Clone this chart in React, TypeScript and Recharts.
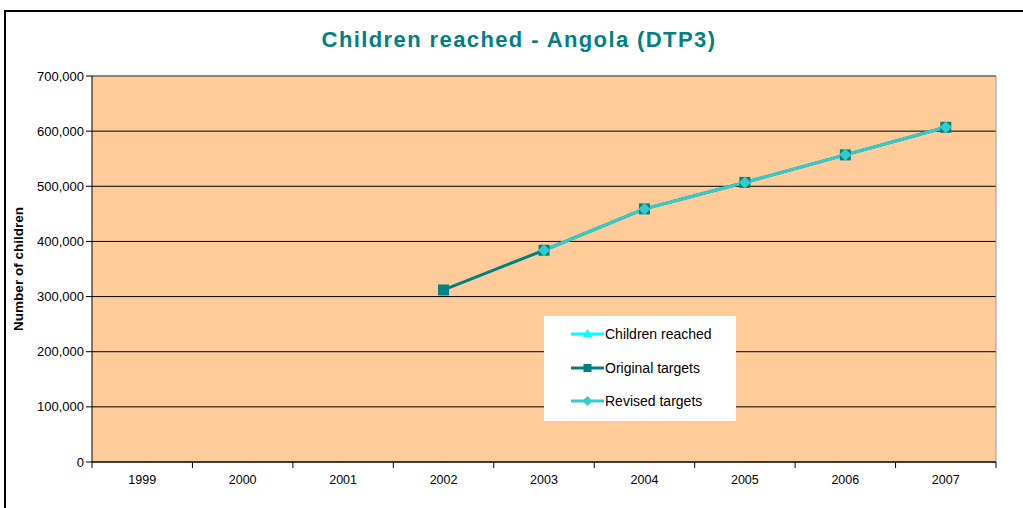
import React from 'react';
import {
  LineChart, Line, XAxis, YAxis, CartesianGrid, ReferenceLine,
} from 'recharts';

const years = ['1999', '2000', '2001', '2002', '2003', '2004', '2005', '2006', '2007'];
const childrenReached: (number | null)[] = [null, null, null, null, null, null, null, null, null];
const originalTargets: (number | null)[] = [null, null, null, 312000, 384000, 459000, 507000, 557000, 607000];
const revisedTargets: (number | null)[] = [null, null, null, null, 384000, 459000, 507000, 557000, 607000];
const yTicks = [0, 100000, 200000, 300000, 400000, 500000, 600000, 700000];

const data = years.map((y, i) => ({
  idx: i,
  year: y,
  children: childrenReached[i],
  original: originalTargets[i],
  revised: revisedTargets[i],
}));

const boundaryTicks = years.map((_, i) => i - 0.5).concat([years.length - 0.5]);
const centerTicks = years.map((_, i) => i);

const FONT = '"Liberation Sans", Arial, sans-serif';
const C_CHILD = '#00FFFF';
const C_ORIG = '#008080';
const C_REV = '#33CCCC';

const SquareDot = (props: any) => {
  const { cx, cy, index } = props;
  if (cx == null || cy == null || props.value == null) return <g key={`s${index}`} />;
  return <rect key={`s${index}`} x={cx - 5.5} y={cy - 5.5} width={11} height={11} fill={C_ORIG} />;
};

const DiamondDot = (props: any) => {
  const { cx, cy, index } = props;
  if (cx == null || cy == null || props.value == null) return <g key={`d${index}`} />;
  const r = 6;
  return (
    <polygon
      key={`d${index}`}
      points={`${cx},${cy - r} ${cx + r},${cy} ${cx},${cy + r} ${cx - r},${cy}`}
      fill={C_REV}
    />
  );
};

const TriangleDot = (props: any) => {
  const { cx, cy, index } = props;
  if (cx == null || cy == null || props.value == null) return <g key={`t${index}`} />;
  return <polygon key={`t${index}`} points={`${cx},${cy - 5} ${cx + 5},${cy + 4} ${cx - 5},${cy + 4}`} fill={C_CHILD} />;
};

const legendItems = [
  { label: 'Children reached', color: C_CHILD, shape: 'triangle' },
  { label: 'Original targets', color: C_ORIG, shape: 'square' },
  { label: 'Revised targets', color: C_REV, shape: 'diamond' },
];

const LegendBox = () => (
  <div style={{ position: 'absolute', left: 544, top: 316, width: 192, height: 105, background: '#fff' }}>
    {legendItems.map((it, i) => (
      <div
        key={it.label}
        style={{ position: 'absolute', left: 27, top: 9 + i * 33.5, height: 18, display: 'flex', alignItems: 'center' }}
      >
        <svg width={34} height={18} style={{ display: 'block' }}>
          <line x1={0} y1={9} x2={33} y2={9} stroke={it.color} strokeWidth={3} />
          {it.shape === 'triangle' && <polygon points="16.5,4 21,12 12,12" fill={it.color} />}
          {it.shape === 'square' && <rect x={12.5} y={5} width={8} height={8} fill={it.color} />}
          {it.shape === 'diamond' && <polygon points="16.5,4 21.5,9 16.5,14 11.5,9" fill={it.color} />}
        </svg>
        <span style={{ fontFamily: FONT, fontSize: 14, color: '#000', marginLeft: 0, whiteSpace: 'nowrap' }}>{it.label}</span>
      </div>
    ))}
  </div>
);

export default function App() {
  return (
    <div style={{ position: 'absolute', left: 0, top: 0, width: 1023, height: 508, background: '#fff', overflow: 'hidden' }}>
      <div
        style={{
          position: 'absolute', left: 4, top: 10, width: 1040, height: 540,
          borderLeft: '2px solid #000', borderTop: '2px solid #000', boxSizing: 'border-box',
        }}
      />
      <div
        style={{
          position: 'absolute', left: 0, width: 1038, top: 27, textAlign: 'center',
          fontFamily: FONT, fontWeight: 'bold', fontSize: 22, color: '#008080', letterSpacing: 1.4,
        }}
      >
        Children reached - Angola (DTP3)
      </div>
      <div style={{ position: 'absolute', left: 0, top: 0 }}>
        <LineChart
          width={1023}
          height={508}
          data={data}
          margin={{ top: 76, right: 27, bottom: 8, left: 22 }}
        >
          <CartesianGrid horizontal vertical={false} stroke="#000" strokeWidth={1} fill="#FFCC99" />
          <XAxis
            xAxisId={0}
            dataKey="idx"
            type="number"
            domain={[-0.5, years.length - 0.5]}
            ticks={boundaryTicks}
            tickFormatter={() => ''}
            tickSize={6}
            height={8}
            axisLine={{ stroke: '#000' }}
            tickLine={{ stroke: '#000' }}
            interval={0}
            allowDataOverflow
          />
          <XAxis
            xAxisId="lbl"
            dataKey="idx"
            type="number"
            domain={[-0.5, years.length - 0.5]}
            ticks={centerTicks}
            tickFormatter={(v: number) => years[v] ?? ''}
            axisLine={false}
            tickLine={false}
            height={30}
            interval={0}
            tick={{ fill: '#000', fontSize: 12.5, fontFamily: FONT, dy: -3 }}
            allowDataOverflow
          />
          <YAxis
            domain={[0, 700000]}
            ticks={yTicks}
            width={70}
            interval={0}
            tickSize={6}
            axisLine={{ stroke: '#000' }}
            tickLine={{ stroke: '#000' }}
            tickFormatter={(v: number) => v.toLocaleString('en-US')}
            tick={{ fill: '#000', fontSize: 13, fontFamily: FONT }}
            label={{
              value: 'Number of children', angle: -90, position: 'insideLeft', offset: -4,
              style: { fontFamily: FONT, fontSize: 13.5, fontWeight: 'bold', fill: '#000', textAnchor: 'middle' },
            }}
          />
          <ReferenceLine y={700000} stroke="#999" strokeWidth={1} />
          <ReferenceLine x={years.length - 0.5} stroke="#999" strokeWidth={1} />
          <Line
            dataKey="children"
            stroke={C_CHILD}
            strokeWidth={3}
            dot={TriangleDot}
            isAnimationActive={false}
          />
          <Line
            dataKey="original"
            stroke={C_ORIG}
            strokeWidth={3}
            dot={SquareDot}
            isAnimationActive={false}
          />
          <Line
            dataKey="revised"
            stroke={C_REV}
            strokeWidth={3}
            dot={DiamondDot}
            isAnimationActive={false}
          />
        </LineChart>
      </div>
      <LegendBox />
    </div>
  );
}
